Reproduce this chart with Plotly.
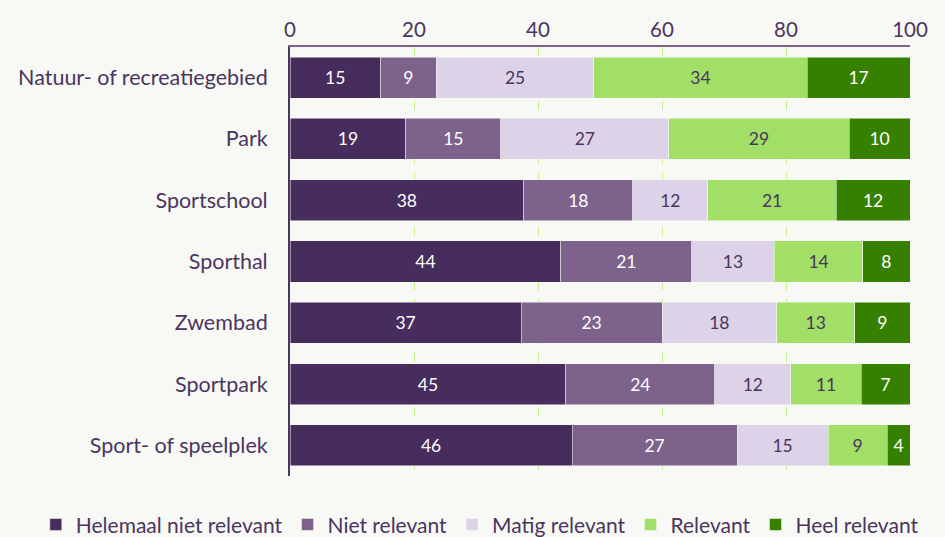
import plotly.graph_objects as go

categories = ["Natuur- of recreatiegebied", "Park", "Sportschool", "Sporthal",
              "Zwembad", "Sportpark", "Sport- of speelplek"]
series_names = ["Helemaal niet relevant", "Niet relevant", "Matig relevant",
                "Relevant", "Heel relevant"]
helemaal_niet = [14.6, 18.7, 37.7, 43.7, 37.3, 44.5, 45.5]
niet = [9.0, 15.3, 17.6, 21.1, 22.7, 24.0, 26.6]
matig = [25.4, 27.1, 12.1, 13.3, 18.5, 12.3, 14.7]
relevant = [34.4, 29.1, 20.7, 14.3, 12.6, 11.3, 9.5]
heel = [16.6, 9.8, 11.9, 7.6, 8.9, 7.9, 3.7]
labels = [
    [15, 19, 38, 44, 37, 45, 46],
    [9, 15, 18, 21, 23, 24, 27],
    [25, 27, 12, 13, 18, 12, 15],
    [34, 29, 21, 14, 13, 11, 9],
    [17, 10, 12, 8, 9, 7, 4],
]
x_ticks = [0, 20, 40, 60, 80, 100]

colors = ["#472c5e", "#7d628c", "#dcd3e8", "#a2df66", "#368000"]
text_colors = ["#ffffff", "#ffffff", "#4a3560", "#4a3560", "#ffffff"]
values = [helemaal_niet, niet, matig, relevant, heel]

fig = go.Figure()
for name, vals, lab, c, tc in zip(series_names, values, labels, colors, text_colors):
    fig.add_trace(go.Bar(
        y=categories, x=vals, name=name, orientation="h",
        marker=dict(color=c, line=dict(width=0.5, color="#f8f9f4")),
        text=[str(v) for v in lab], textposition="inside", insidetextanchor="middle",
        textfont=dict(color=tc, size=17.5, family="Lato"),
        constraintext="none",
    ))

fig.update_layout(
    barmode="stack",
    bargap=0.33,
    width=945, height=537,
    margin=dict(l=290, r=35, t=47, b=61, autoexpand=False),
    paper_bgcolor="#f8f9f4",
    plot_bgcolor="#f8f9f4",
    font=dict(family="Lato", color="#4a3560", size=21),
    showlegend=True,
    legend=dict(orientation="h", x=-0.41, xanchor="left",
                y=-0.066, yanchor="top",
                font=dict(size=21, color="#4a3560"), traceorder="normal",
                itemwidth=30, tracegroupgap=0, bgcolor="rgba(0,0,0,0)"),
)
fig.update_xaxes(
    range=[0, 100], side="top", tickvals=x_ticks,
    showgrid=True, gridcolor="#c3f08c", griddash="dash", gridwidth=1,
    showline=True, linecolor="#7d628c", linewidth=2, mirror=False,
    zeroline=False, ticks="", tickfont=dict(size=20.5, color="#4a3560"),
)
fig.update_yaxes(
    categoryorder="array", categoryarray=categories, autorange="reversed",
    showline=True, linecolor="#4a3560", linewidth=2, ticks="",
    ticklabelstandoff=16, showgrid=False,
    tickfont=dict(size=21.5, color="#4a3560"),
)

fig.write_html("out.html", config={"displayModeBar": False})
with open("out.html", "r", encoding="utf-8") as f:
    html = f.read()
html = html.replace("<body>", '<body style="margin:0;padding:0;">', 1)
with open("out.html", "w", encoding="utf-8") as f:
    f.write(html)
